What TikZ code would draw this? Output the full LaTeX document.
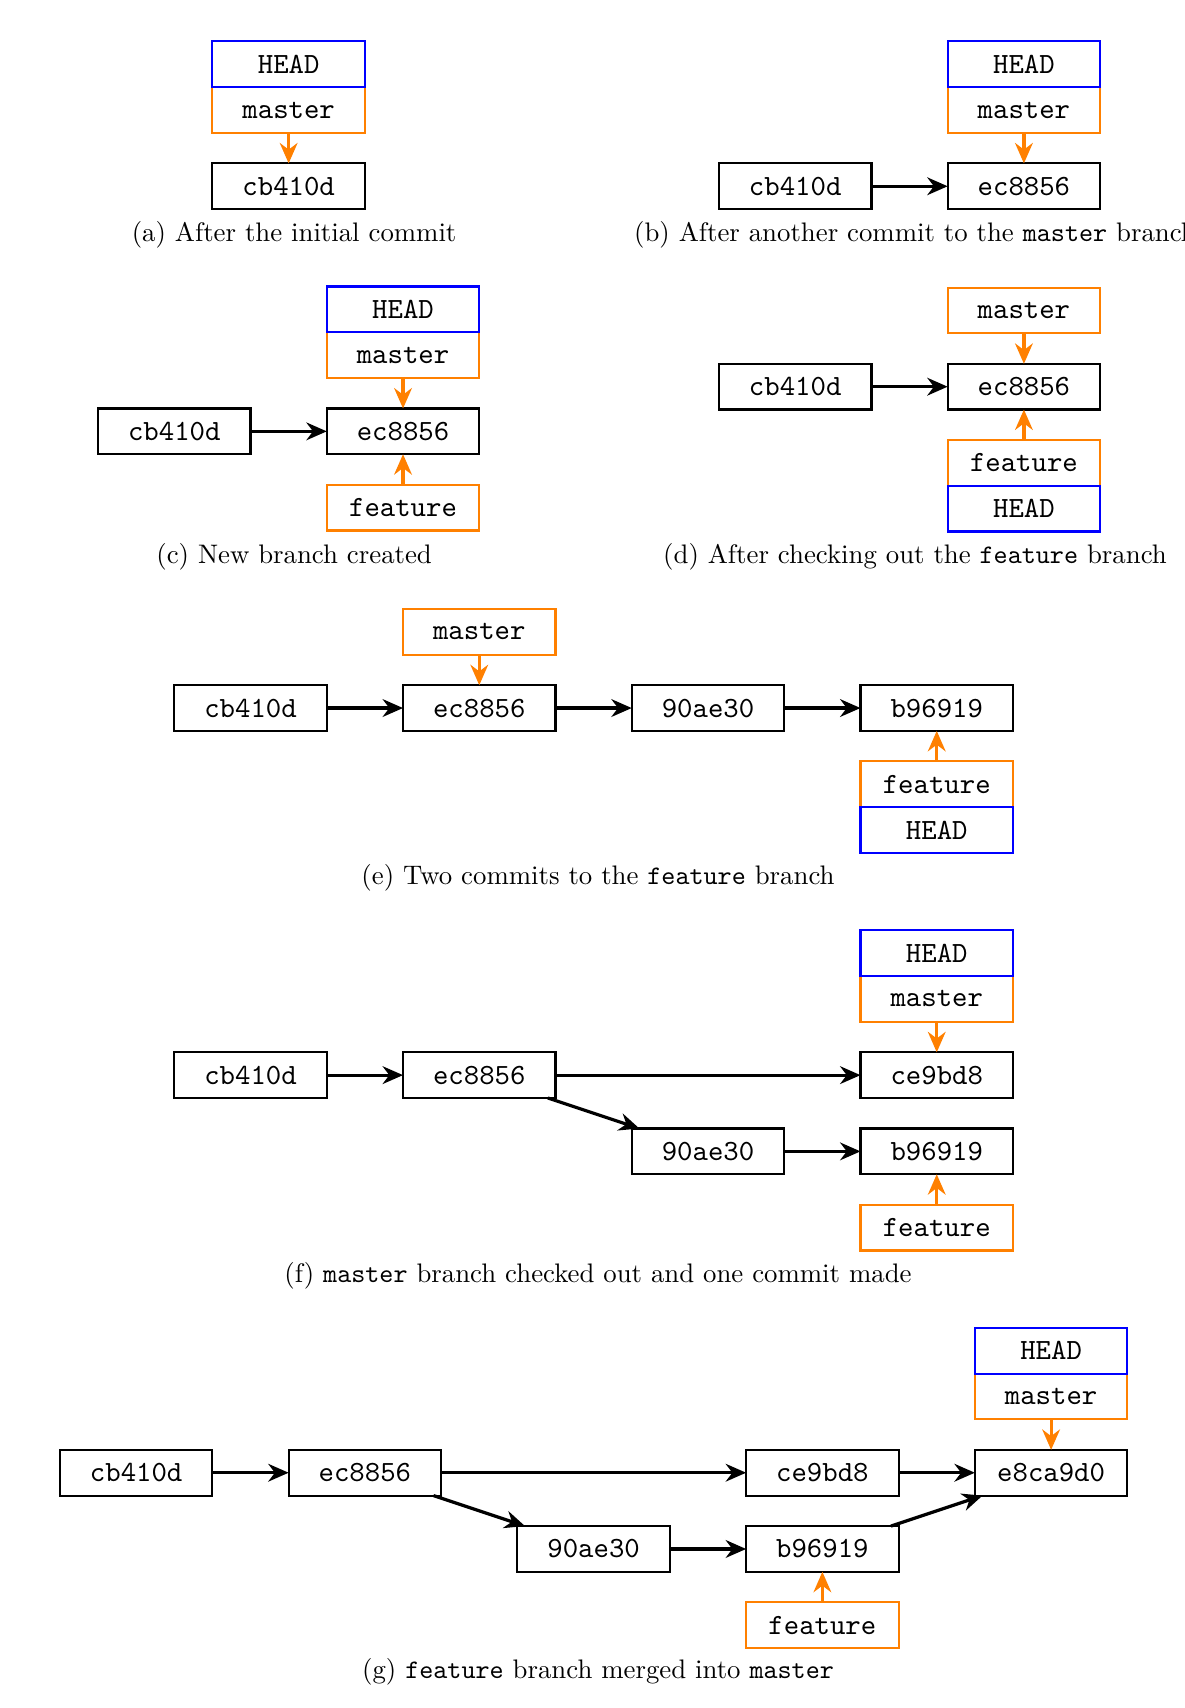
\documentclass[tikz,border=0pt]{standalone}
\usetikzlibrary{arrows.meta,positioning}

\begin{document}
\begin{tikzpicture}[x=0.4065pt,y=-0.4065pt,node distance=0.4cm and 1cm,
  commit/.style={draw,thick,outer sep=0pt,minimum width=2cm,minimum height=0.6cm,font=\fontsize{10.95}{13.6}\selectfont\ttfamily},
  branchref/.style={commit,draw=orange},
  headref/.style={commit,draw=blue},
  arr/.style={-{Stealth[length=7.6pt,width=6.6pt]},very thick},
  ptr/.style={arr,orange},
  subcap/.style={anchor=base,font=\fontsize{10}{12}\selectfont}]
\useasboundingbox (0,0) rectangle (1087,1568);
% (a) initial commit
\node[commit] (a1) at (265,171) {cb410d};
\node[branchref,above=of a1] (am) {master};
\node[headref,above=0pt of am] (ah) {HEAD};
\draw[ptr] (am) -- (a1);
\node[subcap] (capa) at (270,222) {(a) After the initial commit};
% (b) second commit on master
\node[commit] (b1) at (730,171) {cb410d};
\node[commit,right=of b1] (b2) {ec8856};
\node[branchref,above=of b2] (bm) {master};
\node[headref,above=0pt of bm] (bh) {HEAD};
\draw[arr] (b1) -- (b2);
\draw[ptr] (bm) -- (b2);
\node[subcap] (capb) at (840,222) {(b) After another commit to the \texttt{master} branch};
% (c) new branch
\node[commit] (c1) at (160,396) {cb410d};
\node[commit,right=of c1] (c2) {ec8856};
\node[branchref,above=of c2] (cm) {master};
\node[headref,above=0pt of cm] (ch) {HEAD};
\node[branchref,below=of c2] (cf) {feature};
\draw[arr] (c1) -- (c2);
\draw[ptr] (cm) -- (c2);
\draw[ptr] (cf) -- (c2);
\node[subcap] (capc) at (270,517) {(c) New branch created};
% (d) checkout feature
\node[commit] (d1) at (730,355) {cb410d};
\node[commit,right=of d1] (d2) {ec8856};
\node[branchref,above=of d2] (dm) {master};
\node[branchref,below=of d2] (df) {feature};
\node[headref,below=0pt of df] (dh) {HEAD};
\draw[arr] (d1) -- (d2);
\draw[ptr] (dm) -- (d2);
\draw[ptr] (df) -- (d2);
\node[subcap] (capd) at (840,517) {(d) After checking out the \texttt{feature} branch};
% (e) two commits on feature
\node[commit] (e1) at (230,650) {cb410d};
\node[commit,right=of e1] (e2) {ec8856};
\node[commit,right=of e2] (e3) {90ae30};
\node[commit,right=of e3] (e4) {b96919};
\node[branchref,above=of e2] (em) {master};
\node[branchref,below=of e4] (ef) {feature};
\node[headref,below=0pt of ef] (eh) {HEAD};
\draw[arr] (e1) -- (e2);
\draw[arr] (e2) -- (e3);
\draw[arr] (e3) -- (e4);
\draw[ptr] (em) -- (e2);
\draw[ptr] (ef) -- (e4);
\node[subcap] (cape) at (549,812) {(e) Two commits to the \texttt{feature} branch};
% (f) back on master, one commit
\node[commit] (f1) at (230,987) {cb410d};
\node[commit,right=of f1] (f2) {ec8856};
\node[commit,below right=of f2] (f3) {90ae30};
\node[commit,right=of f3] (f4) {b96919};
\node[commit,above=of f4] (f5) {ce9bd8};
\node[branchref,above=of f5] (fm) {master};
\node[headref,above=0pt of fm] (fh) {HEAD};
\node[branchref,below=of f4] (ff) {feature};
\draw[arr] (f1) -- (f2);
\draw[arr] (f2) -- (f5);
\draw[arr] (f2) -- (f3);
\draw[arr] (f3) -- (f4);
\draw[ptr] (fm) -- (f5);
\draw[ptr] (ff) -- (f4);
\node[subcap] (capf) at (549,1177) {(f) \texttt{master} branch checked out and one commit made};
% (g) merge
\node[commit] (g1) at (125,1352) {cb410d};
\node[commit,right=of g1] (g2) {ec8856};
\node[commit,below right=of g2] (g3) {90ae30};
\node[commit,right=of g3] (g4) {b96919};
\node[commit,above=of g4] (g5) {ce9bd8};
\node[commit,right=of g5] (g6) {e8ca9d0};
\node[branchref,above=of g6] (gm) {master};
\node[headref,above=0pt of gm] (gh) {HEAD};
\node[branchref,below=of g4] (gf) {feature};
\draw[arr] (g1) -- (g2);
\draw[arr] (g2) -- (g5);
\draw[arr] (g2) -- (g3);
\draw[arr] (g3) -- (g4);
\draw[arr] (g5) -- (g6);
\draw[arr] (g4) -- (g6);
\draw[ptr] (gm) -- (g6);
\draw[ptr] (gf) -- (g4);
\node[subcap] (capg) at (549,1541) {(g) \texttt{feature} branch merged into \texttt{master}};
\end{tikzpicture}
\end{document}
